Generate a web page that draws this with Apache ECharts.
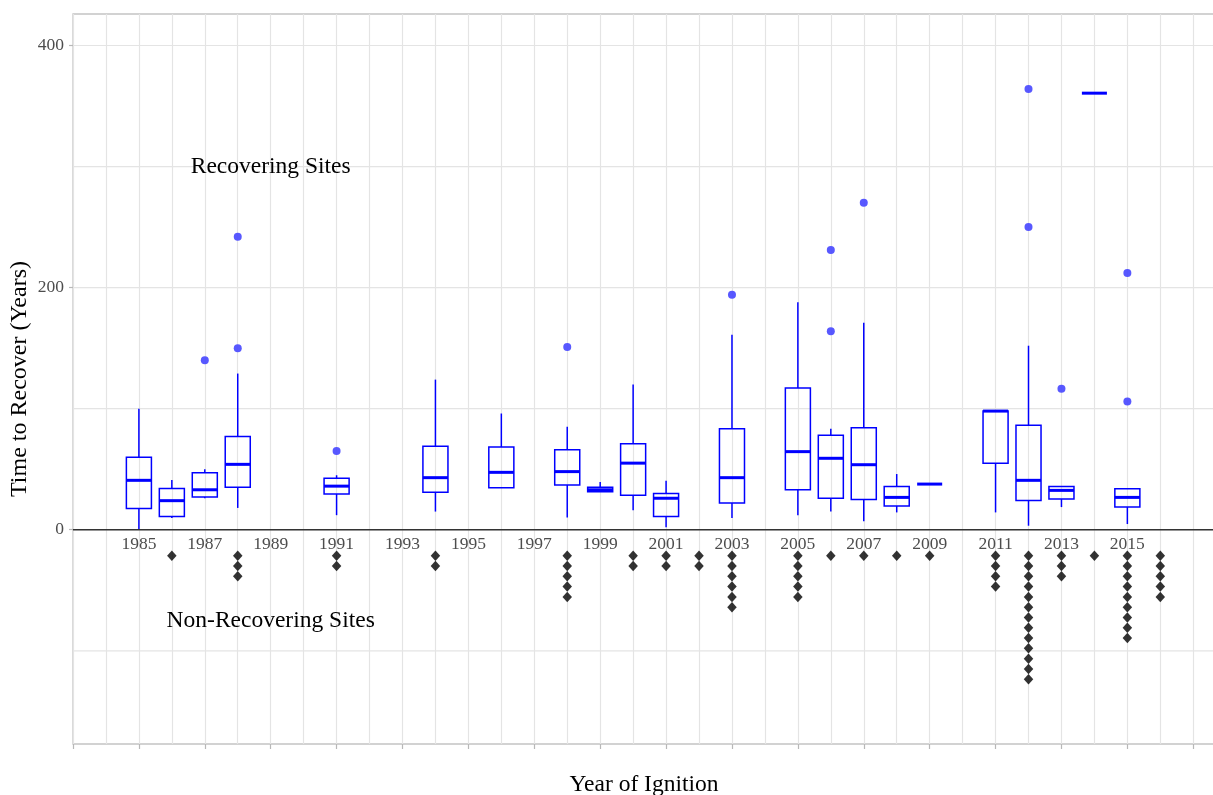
<!DOCTYPE html>
<html>
<head>
<meta charset="utf-8">
<script src="https://cdn.jsdelivr.net/npm/echarts@6/dist/echarts.min.js"></script>
<style>html,body{margin:0;padding:0;background:#fff}#c{width:1213px;height:795px}</style>
</head>
<body>
<div id="c"></div>
<script>
// ---------- data ----------
const boxYears    = [1985, 1986, 1987, 1988, 1991, 1994, 1996, 1998, 1999, 2000, 2001, 2003, 2005, 2006, 2007, 2008, 2009, 2011, 2012, 2013, 2014, 2015];
const whiskerLow  = [0.5,  9.6,  26,   18,   12,   15,   34.7, 10,   31.4, 16,   2,    9.6,  12,   15,   7,    14.3, 37.7, 14.3, 3.3,  18.7, 360.6, 4.7];
const q1          = [17.6, 11,   27,   35,   29.5, 31,   34.7, 37,   31.4, 28.4, 11,   22,   33,   26,   25,   19.6, 37.7, 55,   24.2, 25.3, 360.6, 18.7];
const median      = [40.8, 24,   33,   54,   36,   43,   47.4, 48,   33,   55,   26,   43,   64.5, 59,   53.7, 26.7, 37.7, 98,   40.8, 32.5, 360.6, 26.7];
const q3          = [59.8, 34,   47,   77,   42.5, 69,   68.3, 66,   35,   71,   30,   83.5, 117,  78,   84.3, 35.8, 37.7, 98,   86.2, 35.8, 360.6, 33.9];
const whiskerHigh = [100,  41,   50,   129,  45,   124,  96,   85,   39.4, 120,  40.5, 161,  188,  83.5, 171,  46,   37.7, 98,   152,  35.8, 360.6, 33.9];

const outlierYears  = [1987, 1988, 1988, 1991, 1998, 2003, 2006, 2006, 2007, 2012, 2012, 2013, 2015, 2015];
const outlierValues = [140,  150,  242,  65,   151,  194,  164,  231,  270,  250,  364,  116.5, 106, 212];

const nonRecYears  = [1986, 1988, 1991, 1994, 1998, 2000, 2001, 2002, 2003, 2005, 2006, 2007, 2008, 2009, 2011, 2012, 2013, 2014, 2015, 2016];
const nonRecCounts = [1,    3,    2,    2,    5,    2,    2,    2,    6,    5,    1,    1,    1,    1,    4,    13,   3,    1,    9,    5];

const yearLabels  = [1985, 1987, 1989, 1991, 1993, 1995, 1997, 1999, 2001, 2003, 2005, 2007, 2009, 2011, 2013, 2015];
const yTickValues = [0, 200, 400];
const hGridValues = [-100, 0, 100, 200, 300, 400];
const zeroLine    = [0];

const annotationTexts = ['Recovering Sites', 'Non-Recovering Sites'];
const annotationX     = [1989, 1989];
const annotationY     = [300, -75];

// ---------- layout constants ----------
const X_MIN = 1983, X_MAX = 2017.66, Y_MIN = -177, Y_MAX = 426;
const DOT_START = -21.5, DOT_STEP = 8.5;
const BOX_W = 0.76;
const SERIF = '"Liberation Serif", "Times New Roman", "DejaVu Serif", serif';
const BLUE = '#0000ff';

// derived tables
const boxData = boxYears.map((y, i) => [y, whiskerLow[i], q1[i], median[i], q3[i], whiskerHigh[i]]);
const outlierData = outlierYears.map((y, i) => [y, outlierValues[i]]);
const dotData = [];
nonRecYears.forEach((y, i) => {
  for (let k = 0; k < nonRecCounts[i]; k++) dotData.push([y, DOT_START - k * DOT_STEP]);
});
const annData = annotationTexts.map((t, i) => [annotationX[i], annotationY[i], t]);

function renderHLine(color, width) {
  return function (params, api) {
    const cs = params.coordSys;
    const p = api.coord([X_MIN, api.value(0)]);
    return {
      type: 'line',
      shape: { x1: cs.x, y1: p[1], x2: cs.x + cs.width, y2: p[1] },
      style: { stroke: color, lineWidth: width }
    };
  };
}

function renderBox(params, api) {
  const x = api.value(0);
  const lo = api.value(1), a = api.value(2), m = api.value(3), b = api.value(4), hi = api.value(5);
  const half = api.size([BOX_W, 0])[0] / 2;
  const pLo = api.coord([x, lo]), pA = api.coord([x, a]), pM = api.coord([x, m]), pB = api.coord([x, b]), pHi = api.coord([x, hi]);
  const cx = pA[0];
  const st = { stroke: BLUE, lineWidth: 1.5 };
  const ch = [];
  if (hi > b) ch.push({ type: 'line', shape: { x1: cx, y1: pB[1], x2: cx, y2: pHi[1] }, style: st });
  if (lo < a) ch.push({ type: 'line', shape: { x1: cx, y1: pA[1], x2: cx, y2: pLo[1] }, style: st });
  if (b > a) ch.push({ type: 'rect', shape: { x: cx - half, y: pB[1], width: 2 * half, height: pA[1] - pB[1] }, style: { stroke: BLUE, lineWidth: 1.5, fill: 'none' } });
  ch.push({ type: 'line', shape: { x1: cx - half, y1: pM[1], x2: cx + half, y2: pM[1] }, style: { stroke: BLUE, lineWidth: 3 } });
  return { type: 'group', children: ch };
}

function renderYearLabel(params, api) {
  const p = api.coord([api.value(0), 0]);
  return {
    type: 'text',
    style: { text: String(api.value(0)), x: p[0], y: p[1] + 15, align: 'center', verticalAlign: 'middle',
             fontSize: 17.5, fontFamily: SERIF, fill: '#4d4d4d' }
  };
}

function renderAnnotation(params, api) {
  const p = api.coord([api.value(0), api.value(1)]);
  return {
    type: 'text',
    style: { text: annData[params.dataIndex][2], x: p[0], y: p[1], align: 'center', verticalAlign: 'middle',
             fontSize: 23.5, fontFamily: SERIF, fill: '#000' }
  };
}

const chart = echarts.init(document.getElementById('c'), null, { renderer: 'canvas' });
chart.setOption({
  animation: false,
  backgroundColor: '#fff',
  grid: { left: 73, top: 14, right: -2, bottom: 51, containLabel: false, outerBoundsMode: 'none',
          show: true, borderColor: '#c4c4c4', borderWidth: 1.3, backgroundColor: 'transparent' },
  xAxis: [
    {
      type: 'value', min: X_MIN, max: X_MAX, interval: 1, position: 'bottom',
      name: 'Year of Ignition', nameLocation: 'middle', nameGap: 29, nameMoveOverlap: false,
      nameTextStyle: { fontFamily: SERIF, fontSize: 23.5, color: '#000' },
      axisLine: { show: false }, axisTick: { show: false }, axisLabel: { show: false },
      splitLine: { show: true, lineStyle: { color: '#e4e4e4', width: 1.2 } }
    },
    {
      type: 'value', min: X_MIN, max: X_MAX, interval: 2, position: 'bottom',
      axisLine: { show: false },
      axisTick: { show: true, length: 5, lineStyle: { color: '#b8b8b8', width: 1.2 } },
      axisLabel: { show: false }, splitLine: { show: false }
    }
  ],
  yAxis: {
    type: 'value', min: Y_MIN, max: Y_MAX,
    name: 'Time to Recover (Years)', nameLocation: 'middle', nameGap: 41, nameMoveOverlap: false,
    nameTextStyle: { fontFamily: SERIF, fontSize: 24, color: '#000' },
    axisLine: { show: false },
    axisTick: { show: true, customValues: yTickValues, length: 4, lineStyle: { color: '#b8b8b8', width: 1.2 } },
    axisLabel: { customValues: yTickValues, margin: 9, fontFamily: SERIF, fontSize: 17.5, color: '#4d4d4d' },
    splitLine: { show: false }
  },
  series: [
    { type: 'custom', name: 'hgrid', data: hGridValues.map(v => [v]), encode: { y: 0 }, renderItem: renderHLine('#e4e4e4', 1.2), silent: true, z: 1 },
    { type: 'custom', name: 'zero', data: zeroLine.map(v => [v]), encode: { y: 0 }, renderItem: renderHLine('#333333', 1.6), silent: true, z: 2 },
    { type: 'custom', name: 'yearLabels', data: yearLabels.map(v => [v]), encode: { x: 0 }, renderItem: renderYearLabel, silent: true, z: 3 },
    { type: 'custom', name: 'annotations', data: annData.map(d => [d[0], d[1]]), encode: { x: 0, y: 1 }, renderItem: renderAnnotation, silent: true, z: 3 },
    { type: 'custom', name: 'boxes', data: boxData, encode: { x: 0, y: [1, 2, 3, 4, 5] }, renderItem: renderBox, z: 4 },
    { type: 'scatter', name: 'outliers', data: outlierData, symbol: 'circle', symbolSize: 8, itemStyle: { color: '#4646ff', opacity: 0.9 }, z: 5 },
    { type: 'scatter', name: 'nonRecovering', data: dotData, symbol: 'diamond', symbolSize: [9.5, 10.5], itemStyle: { color: '#000' }, z: 5 }
  ]
});
</script>
</body>
</html>
